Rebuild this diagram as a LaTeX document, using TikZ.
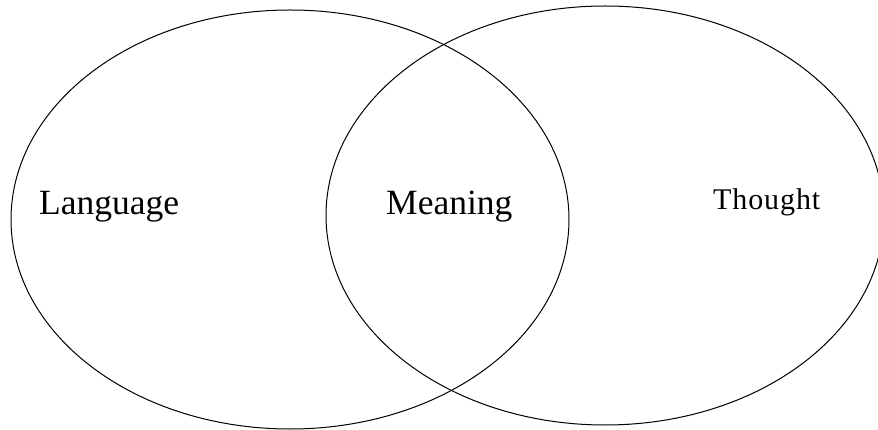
\documentclass[tikz,border=0pt]{standalone}
\usepackage{fontspec}
\setmainfont{Liberation Serif}
\newfontfamily\thoughtfont[LetterSpace=3]{Liberation Serif}
\usepackage{tikz}
\usetikzlibrary{shapes.geometric, positioning}
\tikzset{
    setellipse/.style={draw, ellipse, line width=1pt, inner sep=0pt, minimum width=558pt, minimum height=419pt},
    setlabel/.style={anchor=base west, inner sep=0pt, font=\fontsize{35.5}{40}\selectfont},
    spacedlabel/.style={anchor=base west, inner sep=0pt, font=\thoughtfont\fontsize{30}{34}\selectfont},
}

\begin{document}
\begin{tikzpicture}[x=1pt, y=-1pt]
                \useasboundingbox (0,0) rectangle (878,430);
                
                % The two sets
                \node[setellipse] (language) at (290,219.5) {};
                \node[setellipse] (thought) at (605,215.5) {};
                
                % Labels
                \node[setlabel] (langtext) at (39,215) {Language};
                \node[setlabel] (meantext) at (386,215) {Meaning};
                \node[spacedlabel] (thoughttext) at (713,210) {Thought};
\end{tikzpicture}
\end{document}
